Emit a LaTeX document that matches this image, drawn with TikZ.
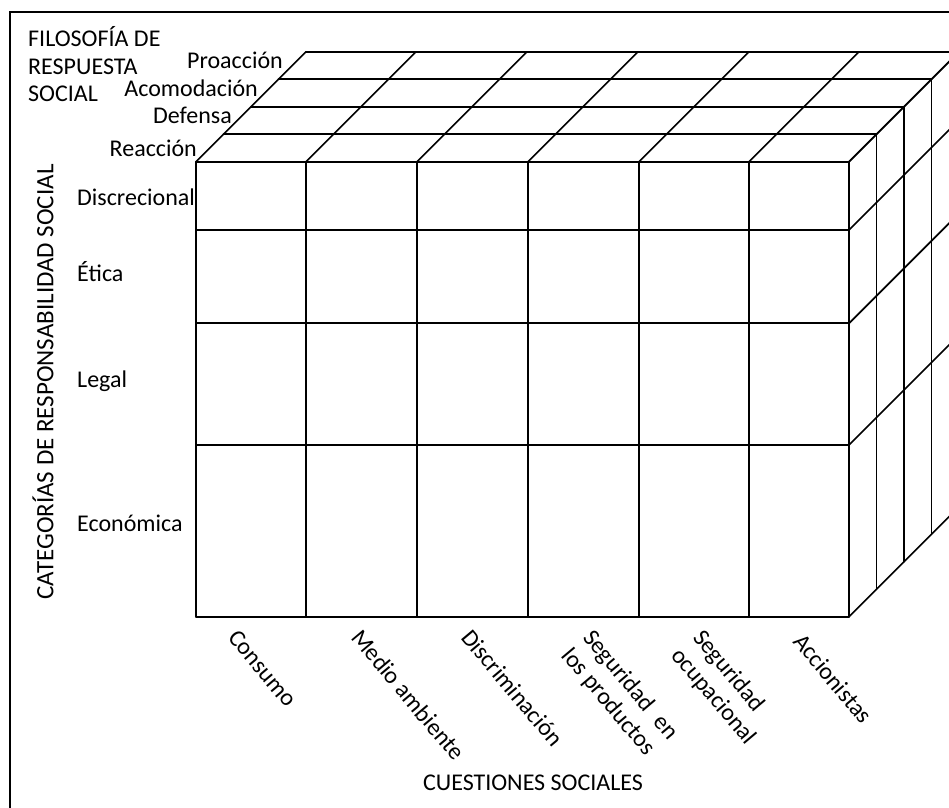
\documentclass[tikz,border=0pt]{standalone}
\usepackage{fontspec}
\setmainfont{Carlito}
\begin{document}
\begin{tikzpicture}[x=1pt,y=-1pt,
  grid/.style={line width=1.7pt,line cap=round,line join=round},
  frame/.style={line width=2.2pt},
  lbl/.style={inner sep=0pt,font=\fontsize{24}{27.8}\selectfont},
  axislbl/.style={lbl,rotate=-50,anchor=base west}]
\useasboundingbox (0,0) rectangle (949,807);
\clip (0,0) rectangle (949,807);
% outer frame (runs past the right and bottom edges)
\draw[frame] (10,12) rectangle (1000,900);
% depth step of the cube layers
\def\dd{27.5}
% front face
\foreach \x in {196,306,417,528,639,749,849}
  \draw[grid] (\x,161.7) -- (\x,616.7);
\foreach \y in {161.7,230,323.3,445,616.7}
  \draw[grid] (196,\y) -- (849,\y);
% top face: receding edges and layer lines
\foreach \x in {196,306,417,528,639,749,849}
  \draw[grid] (\x,161.7) -- ++(4*\dd,-4*\dd);
\foreach \k in {1,2,3,4}
  \draw[grid] (196+\k*\dd,161.7-\k*\dd) -- (849+\k*\dd,161.7-\k*\dd);
% right face: receding edges and layer lines
\foreach \y in {161.7,230,323.3,445,616.7}
  \draw[grid] (849,\y) -- ++(4*\dd,-4*\dd);
\foreach \k in {1,2,3,4}
  \draw[grid] (849+\k*\dd,161.7-\k*\dd) -- (849+\k*\dd,616.7-\k*\dd);
% response philosophy
\node[lbl,anchor=north west,align=left] (filo) at (28,26) {FILOSOFÍA DE\\RESPUESTA\\SOCIAL};
\node[lbl,anchor=base east] (proa) at (283,68.3) {Proacción};
\node[lbl,anchor=base east] (acom) at (258,96.7) {Acomodación};
\node[lbl,anchor=base east] (defe) at (232,123.3) {Defensa};
\node[lbl,anchor=base east] (reac) at (197,156.7) {Reacción};
% responsibility categories
\node[lbl,font=\fontsize{25}{28}\selectfont,rotate=90,anchor=base] (cat) at (53.3,382) {CATEGORÍAS DE RESPONSABILIDAD SOCIAL};
\node[lbl,anchor=base west] (disc) at (77,205) {Discrecional};
\node[lbl,anchor=base west] (etic) at (77,281.7) {Ética};
\node[lbl,anchor=base west] (lega) at (77,387) {Legal};
\node[lbl,anchor=base west] (econ) at (77,531.7) {Económica};
% social issues
\node[axislbl] (cons) at (227,638) {Consumo};
\node[axislbl] (medi) at (350,638) {Medio ambiente};
\node[axislbl] (disr) at (460,638) {Discriminación};
\node[axislbl] (segp1) at (582,638) {Seguridad\enspace en};
\node[axislbl] (segp2) at (560.7,655.9) {los productos};
\node[axislbl] (sego1) at (692,638) {Seguridad};
\node[axislbl] (sego2) at (670.7,655.9) {ocupacional};
\node[axislbl] (acci) at (792,642) {Accionistas};
\node[lbl,anchor=base] (cues) at (533,790) {CUESTIONES SOCIALES};
\end{tikzpicture}
\end{document}
